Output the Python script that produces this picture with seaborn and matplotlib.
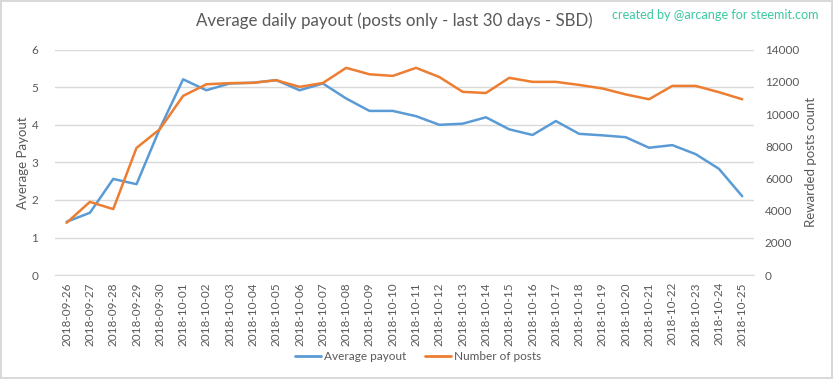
import matplotlib
matplotlib.use("Agg")
import matplotlib.pyplot as plt
import seaborn as sns
import pandas as pd
from matplotlib.lines import Line2D

dates = [
    "2018-09-26", "2018-09-27", "2018-09-28", "2018-09-29", "2018-09-30",
    "2018-10-01", "2018-10-02", "2018-10-03", "2018-10-04", "2018-10-05",
    "2018-10-06", "2018-10-07", "2018-10-08", "2018-10-09", "2018-10-10",
    "2018-10-11", "2018-10-12", "2018-10-13", "2018-10-14", "2018-10-15",
    "2018-10-16", "2018-10-17", "2018-10-18", "2018-10-19", "2018-10-20",
    "2018-10-21", "2018-10-22", "2018-10-23", "2018-10-24", "2018-10-25",
]
avg_payout = [
    1.42, 1.66, 2.56, 2.42, 3.90, 5.21, 4.92, 5.10, 5.12, 5.19,
    4.92, 5.10, 4.70, 4.37, 4.37, 4.23, 4.00, 4.03, 4.20, 3.88,
    3.73, 4.10, 3.76, 3.72, 3.67, 3.39, 3.46, 3.22, 2.83, 2.10,
]
num_posts = [
    3250, 4550, 4100, 7900, 9060, 11130, 11850, 11920, 11940, 12100,
    11690, 11930, 12870, 12470, 12370, 12870, 12300, 11380, 11310, 12250,
    12000, 12000, 11810, 11590, 11220, 10920, 11750, 11750, 11360, 10920,
]

df = pd.DataFrame({"idx": range(len(dates)), "date": dates,
                   "payout": avg_payout, "posts": num_posts})

blue = "#5B9BD5"
orange = "#ED7D31"
grey = "#595959"

sns.set_style("white")
plt.rcParams["font.family"] = ["Lato", "DejaVu Sans"]

fig = plt.figure(figsize=(8.33, 3.79), dpi=100)
fig.patch.set_edgecolor("#D9D9D9")
fig.patch.set_linewidth(1.5)
ax = fig.add_axes([0.066, 0.274, 0.839, 0.595])
ax2 = ax.twinx()

sns.lineplot(data=df, x="idx", y="payout", ax=ax, color=blue, linewidth=1.8)
sns.lineplot(data=df, x="idx", y="posts", ax=ax2, color=orange, linewidth=1.8)

ax.set_xlim(-0.5, len(dates) - 0.5)
ax.set_ylim(0, 6)
ax2.set_ylim(0, 14000)
ax.set_yticks(range(0, 7))
ax2.set_yticks(range(0, 14001, 2000))
ax.yaxis.grid(True, color="#D9D9D9", linewidth=1)
ax.set_axisbelow(True)
ax.set_xticks(df["idx"])
ax.set_xticklabels(dates, rotation=90)

for a in (ax, ax2):
    for s in a.spines.values():
        s.set_visible(False)
    a.tick_params(length=0, labelsize=8.5, colors=grey)
ax.spines["bottom"].set_visible(True)
ax.spines["bottom"].set_color("#D9D9D9")
ax.tick_params(axis="y", pad=12)
ax.tick_params(axis="x", pad=5)
ax2.tick_params(axis="y", pad=8)

ax.set_xlabel("")
ax.set_ylabel("Average Payout", color=grey, fontsize=9.5, labelpad=2)
ax2.set_ylabel("Rewarded posts count", color=grey, fontsize=9.5, labelpad=4)

fig.text(0.473, 0.945, "Average daily payout (posts only - last 30 days - SBD)",
         ha="center", va="center", fontsize=12.2, color=grey)
fig.text(0.982, 0.96, "created by @arcange for steemit.com",
         ha="right", va="center", fontsize=9.1, color="#3CC8A0")

handles = [Line2D([], [], color=blue, linewidth=2),
           Line2D([], [], color=orange, linewidth=2)]
fig.legend(handles, ["Average payout", "Number of posts"], loc="center",
           bbox_to_anchor=(0.502, 0.06), ncol=2, frameon=False, fontsize=8.5,
           labelcolor=grey, handlelength=2.2, handletextpad=0.25,
           columnspacing=1.6)

fig.savefig("out.png", dpi=100)
